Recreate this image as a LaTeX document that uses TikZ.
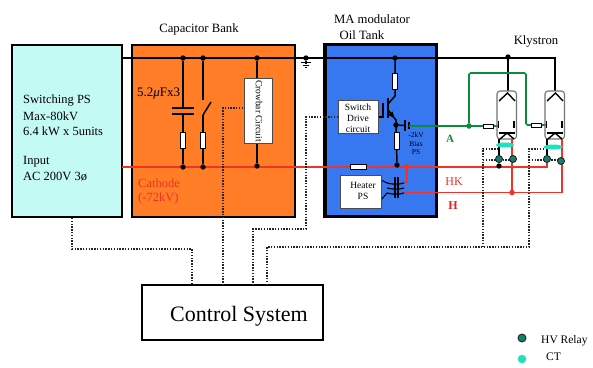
\documentclass[tikz,border=0pt]{standalone}
\usepackage{fontspec}
\usetikzlibrary{shapes.geometric}
\setmainfont{Liberation Serif}
\begin{document}
\begin{tikzpicture}[x=1pt,y=-1pt,
  lbl/.style={inner sep=0pt,anchor=west,font=\fontsize{12}{14}\selectfont},
  clbl/.style={inner sep=0pt,font=\fontsize{12.7}{14}\selectfont},
  bigbox/.style={draw=black,line width=2pt,inner sep=0pt,outer sep=0pt,anchor=north west},
  wbox/.style={draw=black!70,line width=1pt,fill=white,inner sep=0pt,outer sep=0pt,anchor=north west,align=center},
  wire/.style={black,line width=1.5pt},
  redw/.style={draw={rgb,255:red,240;green,50;blue,40},line width=1.8pt},
  grnw/.style={draw={rgb,255:red,10;green,140;blue,60},line width=1.7pt},
  ctl/.style={draw=black!85,line width=1.5pt,dash pattern=on 1.4pt off 1.4pt},
  resv/.style={draw=black,line width=1pt,fill=white,minimum width=4.5pt,minimum height=16pt,inner sep=0pt,outer sep=0pt},
  resh/.style={draw=black,line width=1pt,fill=white,minimum width=10pt,minimum height=4pt,inner sep=0pt,outer sep=0pt},
  jdot/.style={circle,fill=black,minimum size=5.4pt,inner sep=0pt,outer sep=0pt},
  reddot/.style={circle,fill={rgb,255:red,240;green,50;blue,40},minimum size=5.6pt,inner sep=0pt,outer sep=0pt},
  grndot/.style={circle,fill={rgb,255:red,10;green,140;blue,60},minimum size=5.6pt,inner sep=0pt,outer sep=0pt},
  relay/.style={circle,draw=black!85,line width=.9pt,fill={rgb,255:red,15;green,130;blue,110},minimum size=7pt,inner sep=0pt,outer sep=0pt},
  ctring/.style={ellipse,fill={rgb,255:red,30;green,225;blue,190},inner sep=0pt,outer sep=0pt}]
\useasboundingbox (0,0) rectangle (593,367);
\fill[white] (0,0) rectangle (593,367);
% main boxes
\node[bigbox,fill={rgb,255:red,196;green,250;blue,244},minimum width=110.6pt,minimum height=172pt] (ps) at (11.7,44.7) {};
\node[bigbox,fill={rgb,255:red,255;green,125;blue,38},minimum width=163.3pt,minimum height=171.7pt] (cap) at (131.7,45) {};
\node[bigbox,draw=black,line width=3.2pt,fill={rgb,255:red,55;green,120;blue,240},minimum width=111.7pt,minimum height=172.4pt] (ma) at (325,44.3) {};
\node[bigbox,fill=white,minimum width=180.7pt,minimum height=55pt] (ctrl) at (142.3,285) {};
% named points
\coordinate (busL) at (122,58);
\coordinate (busK) at (508,58);
\coordinate (busR) at (555,58);
\coordinate (catL) at (122,167);
\coordinate (catR) at (547,167);
\coordinate (hkA) at (407,167);
\coordinate (hkB) at (407,182);
\coordinate (hL) at (403,192.5);
\coordinate (hR) at (562,192.5);
\coordinate (gA) at (409,126);
% control wiring
\coordinate (a1) at (72,218); \coordinate (a2) at (72,249); \coordinate (a3) at (192,249); \coordinate (a4) at (192,285);
\coordinate (b1) at (243,108); \coordinate (b2) at (223,108); \coordinate (b3) at (223,285);
\coordinate (c1) at (338,117); \coordinate (c2) at (306,117); \coordinate (c3) at (306,229); \coordinate (c4) at (253,229); \coordinate (c5) at (253,285);
\coordinate (d1) at (267,285); \coordinate (d2) at (267,247); \coordinate (d3) at (529,247); \coordinate (d4) at (529,149); \coordinate (d5) at (545,149);
\coordinate (e1) at (483,247); \coordinate (e2) at (483,149); \coordinate (e3) at (498,149);
\coordinate (f1) at (483,160); \coordinate (f2) at (512,160);
\coordinate (f3) at (529,160); \coordinate (f4) at (561,160);
% cathode
\draw[redw] (catL) -- (catR) -- (547,160);
% power buses
\draw[wire] (busL) -- (busR) -- (555,91);
\draw[wire] (busK) -- (508,91);
\node[jdot] (j1) at (183,58) {};
\node[jdot] (j2) at (203,58) {};
\node[jdot] (j3) at (257,58) {};
\node[jdot] (j4) at (306,58) {};
\node[jdot] (j5) at (395,58) {};
\node[jdot] (j6) at (508,57) {};
\node[jdot] (j7) at (183,167) {};
\node[jdot] (j8) at (203,167) {};
\node[jdot] (j9) at (257,166) {};
\node[jdot] (j10) at (397,165) {};
% capacitor branch
\coordinate (cp1) at (183,108); \coordinate (cp2) at (183,114);
\draw[wire] (j1) -- (cp1); \draw[wire] (cp2) -- (j7);
\draw[black,line width=1.7pt] (172,108) -- (194,108) (172,114) -- (194,114);
\node[resv] (r1) at (183,140) {};
% switch branch
\coordinate (sw1) at (203,100); \coordinate (sw2) at (203,115); \coordinate (sw3) at (211,102);
\draw[wire] (j2) -- (sw1); \draw[wire] (sw2) -- (j8); \draw[wire] (sw2) -- (sw3);
\node[resv] (r2) at (203,140) {};
% crowbar
\draw[wire] (j3) -- (j9);
% transistor stack
\coordinate (e0) at (396,125);
\draw[wire] (j5) -- (395,96) -- (388,104);
\draw[wire] (388,110) -- (396,120) -- (e0) -- (j10);
\draw[-latex,wire] (388,110) -- (395,119);
\draw[wire] (388,98) -- (388,118);
\draw[wire] (383,103) -- (383,117) -- (378,117);
\node[jdot] (j11) at (e0) {};
\node[resv,minimum height=16pt] (r3) at (395,81) {};
\node[resv,minimum height=17pt] (r4) at (397,141) {};
\node[resh,minimum width=16pt,minimum height=5pt] (r5) at (358,167) {};
% bias PS
\draw[wire] (j11) -- (405,125.5);
\draw[black,line width=1.4pt] (405,120) -- (405,131);
\draw[black,line width=1.8pt] (409,122) -- (409,129);
% green anode
\draw[grnw] (gA) -- (498,126);
\node[grndot] (g1) at (469,126) {};
\draw[grnw,rounded corners=1.5pt] (g1) -- (469,73) -- (526,73) -- (526,125) -- (546,125);
\node[resh] (r6) at (488,126) {};
\node[resh] (r7) at (536,125) {};
% heater and transformer
\draw[redw] (hkA) -- (hkB) -- (403,182);
\node[reddot] (rd1) at (hkA) {};
\draw[redw] (hL) -- (hR) -- (562,139);
\draw[redw] (512,192.5) -- (512,139);
\node[reddot] (rd2) at (512,192.5) {};
\draw[black,line width=1.2pt] (395,177) -- (395,198) (398,177) -- (398,198);
\foreach \yy in {183,188,193}{\draw[black,line width=1.2pt] (387,\yy) .. controls (392,\yy+1.5) and (400,\yy+1.5) .. (404,\yy);}
\draw[black,line width=1.1pt] (381,180) -- (387,183) (381,200) -- (387,193);
% klystrons
\foreach \kx/\kn in {507/a,555/b}{
  \begin{scope}[shift={(\kx,0)}]
    \draw[black!55,line width=1.1pt,rounded corners=3pt] (-10,91) rectangle (9.5,139);
    \draw[black,line width=1.4pt] (-8,101) -- (0.5,93) -- (8,101);
    \draw[black,line width=1.4pt] (-8.5,121) -- (-8.5,128) (7,121) -- (7,128);
    \draw[black,line width=1.4pt] (-8,133) -- (7.5,133);
    \draw[black,line width=1.4pt] (-7,139) -- (0,133) -- (7,139);
  \end{scope}}
% klystron leads
\node[jdot] (j12) at (499,166) {};
\draw[wire] (499,139) -- (j12);
\draw[wire] (547,139) -- (547,160);
% control lines
\draw[ctl] (a1) -- (a2) -- (a3) -- (a4);
\draw[ctl] (b1) -- (b2) -- (b3);
\draw[ctl] (c1) -- (c2) -- (c3) -- (c4) -- (c5);
\draw[ctl] (d1) -- (d2) -- (d3) -- (d4) -- (d5);
\draw[ctl] (e1) -- (e2) -- (e3);
\draw[ctl] (f1) -- (f2);
\draw[ctl] (f3) -- (f4);
% CT and relays
\node[ctring,minimum width=18pt,minimum height=5pt] (ct1) at (505,145) {};
\node[ctring,minimum width=19pt,minimum height=5pt] (ct2) at (553,147) {};
\node[relay] (re1) at (499,159) {};
\node[relay] (re2) at (513,159) {};
\node[relay] (re3) at (547,159) {};
\node[relay] (re4) at (561,161) {};
% ground
\draw[wire] (j4) -- (306,64);
\draw[black,line width=1pt] (301,62) -- (311,62) (303,65) -- (309,65) (305,67) -- (307,67);
% inner boxes
\node[wbox,minimum width=28pt,minimum height=65pt] (crow) at (244,78) {};
\node[inner sep=0pt,rotate=-90,font=\fontsize{9.5}{10}\selectfont] (crowt) at (259,111) {Crowbar Circuit};
\node[wbox,minimum width=40pt,minimum height=33pt] (drv) at (338,100) {};
\node[inner sep=0pt,align=center,font=\fontsize{9.5}{11}\selectfont] (drvt) at (358,118) {Switch\\Drive\\circuit};
\node[wbox,minimum width=41pt,minimum height=33pt] (htr) at (340,175) {};
\node[inner sep=0pt,align=center,font=\fontsize{9.5}{11}\selectfont] (htrt) at (363,191) {Heater\\PS};
% labels
\node[clbl] (tcap) at (199,29) {Capacitor Bank};
\node[clbl] (tma) at (372,19) {MA modulator};
\node[clbl] (toil) at (362,35) {Oil Tank};
\node[clbl] (tkly) at (536,41) {Klystron};
\node[lbl,font=\fontsize{12.5}{15}\selectfont] (t1) at (23,101) {Switching PS};
\node[lbl,font=\fontsize{12.5}{15}\selectfont] (t2) at (23,116) {Max-80kV};
\node[lbl,font=\fontsize{12.5}{15}\selectfont] (t3) at (23,131) {6.4 kW x 5units};
\node[lbl,font=\fontsize{12.5}{15}\selectfont] (t4) at (23,162) {Input};
\node[lbl,font=\fontsize{12.5}{15}\selectfont] (t5) at (23,177) {AC 200V 3ø};
\node[lbl,font=\fontsize{13}{15}\selectfont] (t6) at (137,94) {5.2\textit{μ}Fx3};
\node[lbl,text={rgb,255:red,240;green,50;blue,40},font=\fontsize{12.5}{15}\selectfont] (t7) at (138,183) {Cathode};
\node[lbl,text={rgb,255:red,240;green,50;blue,40},font=\fontsize{12.5}{15}\selectfont] (t8) at (138,198) {(-72kV)};
\node[clbl,font=\fontsize{7.5}{9}\selectfont] (t9) at (416,135) {-2kV};
\node[clbl,font=\fontsize{7.5}{9}\selectfont] (t10) at (416,144) {Bias};
\node[clbl,font=\fontsize{7.5}{9}\selectfont] (t11) at (416,152) {PS};
\node[clbl,text={rgb,255:red,10;green,140;blue,60},font=\fontsize{11}{13}\bfseries\selectfont] (t12) at (450,139) {A};
\node[clbl,text={rgb,255:red,240;green,50;blue,40},font=\fontsize{12}{14}\selectfont] (t13) at (454,182) {HK};
\node[clbl,text={rgb,255:red,215;green,40;blue,35},font=\fontsize{12}{14}\bfseries\selectfont] (t14) at (453,206) {H};
\node[clbl,font=\fontsize{22}{26}\selectfont] (t15) at (239,316) {Control System};
% legend
\node[relay,minimum size=8pt] (lg1) at (522,338) {};
\node[ctring,minimum width=8.5pt,minimum height=8.5pt] (lg2) at (522,359) {};
\node[lbl,font=\fontsize{11.5}{14}\selectfont] (t16) at (541,341) {HV Relay};
\node[lbl,font=\fontsize{11.5}{14}\selectfont] (t17) at (546,357) {CT};
\end{tikzpicture}
\end{document}
